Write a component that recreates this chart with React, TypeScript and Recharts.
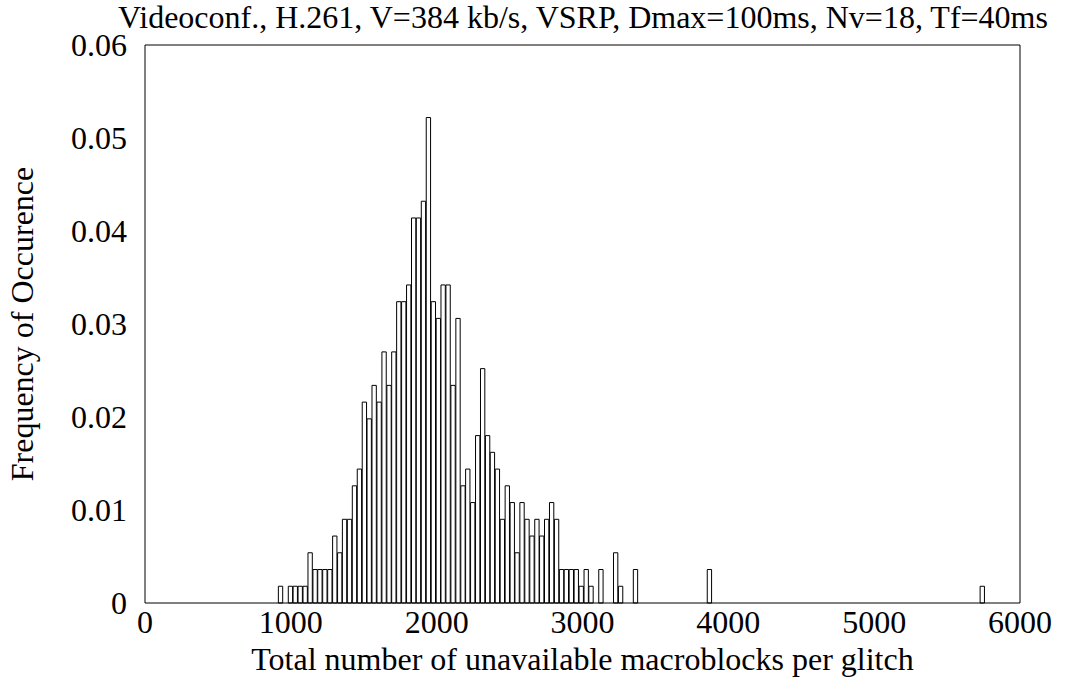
import { ComposedChart, Bar, XAxis, YAxis } from "recharts";

const FONT = "'Liberation Serif', 'Times New Roman', serif";

const TITLE =
  "Videoconf., H.261, V=384 kb/s, VSRP, Dmax=100ms, Nv=18, Tf=40ms";

// bin centres (macroblocks per glitch) of the non-empty bins
const BIN_CENTERS = [
  931, 999, 1032, 1066, 1100, 1134, 1168, 1201, 1235, 1269, 1303, 1337, 1370,
  1404, 1438, 1472, 1506, 1539, 1573, 1607, 1641, 1675, 1708, 1742, 1776, 1810,
  1844, 1877, 1911, 1945, 1979, 2013, 2046, 2080, 2114, 2148, 2182, 2215, 2249,
  2283, 2317, 2351, 2384, 2418, 2452, 2486, 2520, 2553, 2587, 2621, 2655, 2689,
  2722, 2756, 2790, 2824, 2858, 2891, 2925, 2959, 2993, 3027, 3060, 3128, 3229,
  3263, 3365, 3872, 5743,
];

const FREQUENCIES = [
  0.0018, 0.0018, 0.0018, 0.0018, 0.0018, 0.0054, 0.0036, 0.0036, 0.0036,
  0.0036, 0.0072, 0.0054, 0.009, 0.009, 0.0126, 0.0144, 0.0216, 0.0198, 0.0234,
  0.0216, 0.027, 0.0234, 0.027, 0.0324, 0.0324, 0.0342, 0.0414, 0.0414, 0.0432,
  0.0522, 0.0324, 0.0306, 0.0342, 0.0342, 0.0234, 0.0306, 0.0126, 0.0144,
  0.0108, 0.018, 0.0252, 0.018, 0.0162, 0.0144, 0.009, 0.0126, 0.0108, 0.0054,
  0.0108, 0.009, 0.0072, 0.009, 0.0072, 0.009, 0.0108, 0.009, 0.0036, 0.0036,
  0.0036, 0.0036, 0.0018, 0.0036, 0.0018, 0.0036, 0.0054, 0.0018, 0.0036,
  0.0036, 0.0018,
];

const X_TICKS = [0, 1000, 2000, 3000, 4000, 5000, 6000];
const Y_TICKS = [0, 0.01, 0.02, 0.03, 0.04, 0.05, 0.06];

const data = BIN_CENTERS.map((x, i) => ({ x, freq: FREQUENCIES[i] }));

const tickStyle = { fontSize: 32, fill: "#000", fontFamily: FONT };
const black = { stroke: "#000", strokeWidth: 1 };

export default function App() {
  return (
    <div
      style={{
        position: "absolute",
        left: 0,
        top: 0,
        width: 1065,
        height: 679,
        background: "#fff",
        fontFamily: FONT,
      }}
    >
      <div
        style={{
          position: "absolute",
          left: 583,
          top: 1,
          transform: "translateX(-50%)",
          whiteSpace: "nowrap",
          fontSize: 32,
          lineHeight: "32px",
          color: "#000",
        }}
      >
        {TITLE}
      </div>
      <ComposedChart
        width={1065}
        height={679}
        data={data}
        margin={{ top: 45, right: 45, left: 0, bottom: 0 }}
      >
        <XAxis
          dataKey="x"
          type="number"
          domain={[0, 6000]}
          ticks={X_TICKS}
          height={76}
          tickLine={false}
          tickSize={0}
          tickMargin={7}
          axisLine={black}
          tick={tickStyle}
          label={{
            value: "Total number of unavailable macroblocks per glitch",
            position: "insideBottom",
            offset: 9,
            fontSize: 32,
            fill: "#000",
            fontFamily: FONT,
          }}
        />
        <XAxis
          xAxisId="bottomTicks"
          orientation="bottom"
          mirror
          type="number"
          domain={[0, 6000]}
          ticks={X_TICKS}
          tick={false}
          tickSize={9}
          tickLine={black}
          axisLine={false}
        />
        <XAxis
          xAxisId="top"
          orientation="top"
          mirror
          type="number"
          domain={[0, 6000]}
          ticks={X_TICKS}
          tick={false}
          tickSize={9}
          tickLine={black}
          axisLine={black}
        />
        <YAxis
          type="number"
          domain={[0, 0.06]}
          ticks={Y_TICKS}
          width={145}
          tickLine={false}
          tickSize={0}
          tickMargin={18}
          axisLine={black}
          tick={tickStyle}
          tickFormatter={(v: number) => (v === 0 ? "0" : v.toFixed(2))}
          label={{
            value: "Frequency of Occurence",
            angle: -90,
            position: "insideLeft",
            offset: 22,
            fontSize: 32,
            fill: "#000",
            fontFamily: FONT,
            style: { textAnchor: "middle" },
          }}
        />
        <YAxis
          yAxisId="leftTicks"
          orientation="left"
          mirror
          type="number"
          domain={[0, 0.06]}
          ticks={Y_TICKS}
          tick={false}
          tickSize={9}
          tickLine={black}
          axisLine={false}
        />
        <YAxis
          yAxisId="right"
          orientation="right"
          mirror
          type="number"
          domain={[0, 0.06]}
          ticks={Y_TICKS}
          tick={false}
          tickSize={9}
          tickLine={black}
          axisLine={black}
        />
        <Bar
          dataKey="freq"
          barSize={4.93}
          fill="#fff"
          stroke="#000"
          strokeWidth={1}
          isAnimationActive={false}
        />
      </ComposedChart>
    </div>
  );
}
